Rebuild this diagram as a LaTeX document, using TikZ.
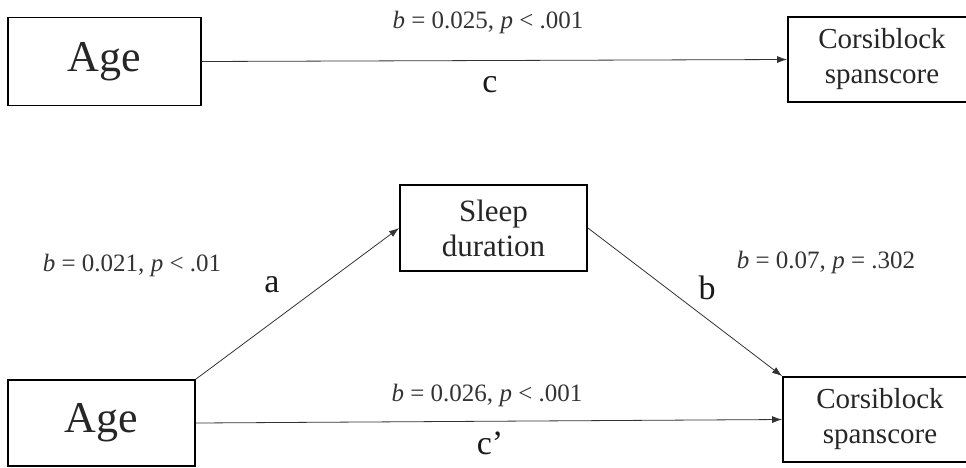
\documentclass[tikz,border=0pt]{standalone}
\usepackage{fontspec}
\setmainfont{Liberation Serif}
\usetikzlibrary{arrows.meta}
\tikzset{
  box/.style={draw=black, line width=1.8pt, inner sep=0pt, align=center, text=black!85},
  conn/.style={draw=black!80, line width=0.8pt, -{Latex[length=10pt,width=7pt]}},
  stat/.style={font=\fontsize{25}{28}\selectfont, text=black!80, inner sep=0pt},
  path label/.style={font=\fontsize{34}{38}\selectfont, text=black!90, inner sep=0pt}
}
\begin{document}
\begin{tikzpicture}[x=1pt,y=-1pt]
\useasboundingbox (0,0) rectangle (966,467);
\clip (0,0) rectangle (966,467);
% top model
\node[box, minimum width=193pt, minimum height=88pt, font=\fontsize{44}{48}\selectfont] (AgeT) at (104.5,61.5) {Age};
\node[box, minimum width=188pt, minimum height=85pt, font=\fontsize{29}{35}\selectfont] (CorT) at (882,59.5) {Corsiblock\\spanscore};
\draw[conn] (AgeT.east) -- (CorT.west);
\node[stat] (sc) at (488,22) {\textit{b} = 0.025, \textit{p} < .001};
\node[path label] (lc) at (490,85) {c};
% bottom model
\node[box, minimum width=187pt, minimum height=86pt, font=\fontsize{31}{35}\selectfont] (Sleep) at (493.5,228) {Sleep\\duration};
\node[box, minimum width=187pt, minimum height=86pt, font=\fontsize{44}{48}\selectfont] (AgeB) at (101.5,423) {Age};
\node[box, minimum width=194pt, minimum height=85pt, font=\fontsize{29}{35}\selectfont] (CorB) at (880,419.5) {Corsiblock\\spanscore};
\draw[conn] (AgeB.north east) -- (Sleep.west);
\draw[conn] (Sleep.east) -- (CorB.north west);
\draw[conn] (AgeB.east) -- (CorB.west);
\node[stat] (sa) at (132,265) {\textit{b} = 0.021, \textit{p} < .01};
\node[path label] (la) at (272,285) {a};
\node[stat] (sb) at (826,262) {\textit{b} = 0.07, \textit{p} = .302};
\node[path label] (lb) at (707,288) {b};
\node[stat] (scp) at (487,395) {\textit{b} = 0.026, \textit{p} < .001};
\node[path label] (lcp) at (490,443) {c’};
\end{tikzpicture}
\end{document}
